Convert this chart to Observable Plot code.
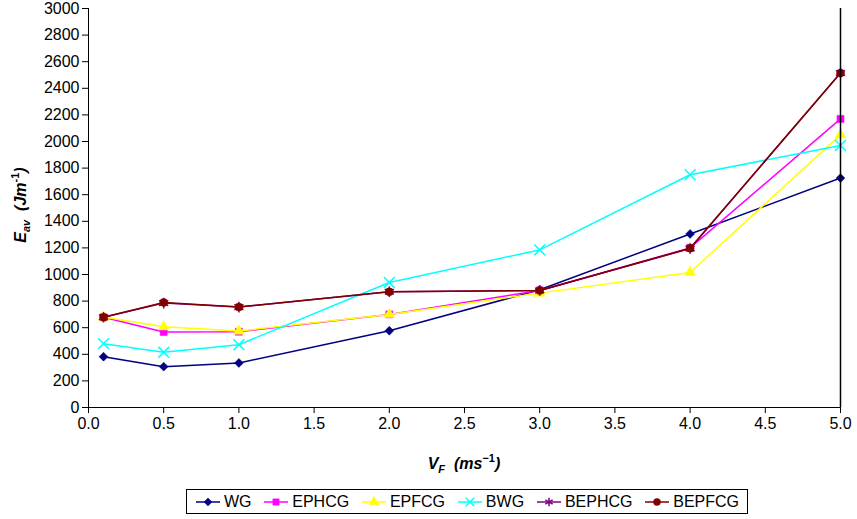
<!DOCTYPE html>
<html><head><meta charset="utf-8">
<script src="https://cdn.jsdelivr.net/npm/d3@7"></script>
<script src="https://cdn.jsdelivr.net/npm/@observablehq/plot@0.6"></script>
<style>
body{margin:0;background:#fff;font-family:"Liberation Sans",Arial,sans-serif;}
#legend{position:absolute;left:186px;top:489px;width:562px;height:25px;border:1px solid #000;box-sizing:border-box;display:flex;align-items:center;justify-content:space-around;font-size:16px;padding:0 2px;}
#legend .it{display:flex;align-items:center;gap:3px;}
</style></head><body>
<div id="chart"></div>
<div id="legend"></div>
<script>
const xValues = [0.1, 0.5, 1.0, 2.0, 3.0, 4.0, 5.0];
const seriesNames = ["WG", "EPHCG", "EPFCG", "BWG", "BEPHCG", "BEPFCG"];
const WG     = [382, 307, 335, 577, 885, 1305, 1725];
const EPHCG  = [678, 568, 570, 700, 880, 1200, 2170];
const EPFCG  = [680, 607, 575, 700, 860, 1015, 2050];
const BWG    = [480, 415, 472, 940, 1185, 1750, 1970];
const BEPHCG = [678, 785, 755, 870, 880, 1195, 2515];
const BEPFCG = [678, 790, 755, 870, 880, 1197, 2515];
const yTicks = [0,200,400,600,800,1000,1200,1400,1600,1800,2000,2200,2400,2600,2800,3000];
const xTicks = [0,0.5,1,1.5,2,2.5,3,3.5,4,4.5,5];

const seriesValues = [WG, EPHCG, EPFCG, BWG, BEPHCG, BEPFCG];
const colors = ["#000080","#FF00FF","#FFFF00","#00FFFF","#800080","#800000"];
const symbols = ["diamond2","square","triangle","times","asterisk","circle"];
const filled = [true,true,true,false,false,true];

const data = [];
seriesNames.forEach((s,i)=>seriesValues[i].forEach((v,j)=>data.push({series:s, x:xValues[j], y:v})));

const marks = [];
seriesNames.forEach((s,i)=>{
  const d = data.filter(r=>r.series===s);
  marks.push(Plot.line(d,{x:"x",y:"y",stroke:colors[i],strokeWidth:1.5}));
  marks.push(Plot.dot(d,{x:"x",y:"y",symbol:()=>symbols[i],r:filled[i]?4:5,
    fill:filled[i]?colors[i]:"none",stroke:colors[i],strokeWidth:filled[i]?0.5:1.5}));
});
marks.push(Plot.ruleX([5],{stroke:"#000",strokeWidth:1.5}));

const plot = Plot.plot({
  width:857, height:478,
  marginLeft:88, marginRight:17, marginTop:8, marginBottom:71,
  style:{fontFamily:"Liberation Sans, Arial, sans-serif", fontSize:"16px", color:"#000", overflow:"visible"},
  x:{domain:[0,5], ticks:xTicks, tickFormat:d3.format(".1f"), label:null, line:true, tickSize:6, tickPadding:4},
  y:{domain:[0,3000], ticks:yTicks, tickFormat:d3.format("d"), label:null, line:true, tickSize:6, tickPadding:3},
  symbol:{type:"identity"},
  marks
});
document.getElementById("chart").appendChild(plot);

const svg = d3.select(plot);
svg.selectAll("[aria-label='x-axis line'], [aria-label='y-axis line']").attr("stroke-width",1.5);
// y-axis label
const yl = svg.append("text").attr("transform","translate(26,205) rotate(-90)")
  .attr("text-anchor","middle").attr("font-size",16).attr("font-weight","bold").attr("font-style","italic")
  .attr("font-family","Liberation Sans, Arial, sans-serif").attr("fill","#000");
yl.append("tspan").text("E");
yl.append("tspan").attr("font-size",11).attr("dy",4).text("av");
yl.append("tspan").attr("dy",-4).text("  (Jm");
yl.append("tspan").attr("font-size",11).attr("dy",-7).attr("font-style","normal").text("-1");
yl.append("tspan").attr("dy",7).text(")");
// x-axis label
const xl = svg.append("text").attr("x",464).attr("y",469)
  .attr("text-anchor","middle").attr("font-size",16).attr("font-weight","bold").attr("font-style","italic")
  .attr("font-family","Liberation Sans, Arial, sans-serif").attr("fill","#000");
xl.append("tspan").text("V");
xl.append("tspan").attr("font-size",11).attr("dy",4).text("F");
xl.append("tspan").attr("dy",-4).text("  (ms");
xl.append("tspan").attr("font-size",11).attr("dy",-7).attr("font-style","normal").text("−1");
xl.append("tspan").attr("dy",7).text(")");

// legend
const lg = d3.select("#legend");
seriesNames.forEach((s,i)=>{
  const it = lg.append("div").attr("class","it");
  const sv = it.append("svg").attr("width",26).attr("height",14);
  sv.append("line").attr("x1",1).attr("x2",25).attr("y1",7).attr("y2",7).attr("stroke",colors[i]).attr("stroke-width",1.5);
  const sym = {diamond2:d3.symbolDiamond2,square:d3.symbolSquare,triangle:d3.symbolTriangle,times:d3.symbolTimes,asterisk:d3.symbolAsterisk,circle:d3.symbolCircle}[symbols[i]];
  sv.append("path").attr("transform","translate(13,7)").attr("d",d3.symbol(sym,filled[i]?40:50)())
    .attr("fill",filled[i]?colors[i]:"none").attr("stroke",colors[i]).attr("stroke-width",filled[i]?0.5:1.5);
  it.append("span").text(s);
});
</script></body></html>
